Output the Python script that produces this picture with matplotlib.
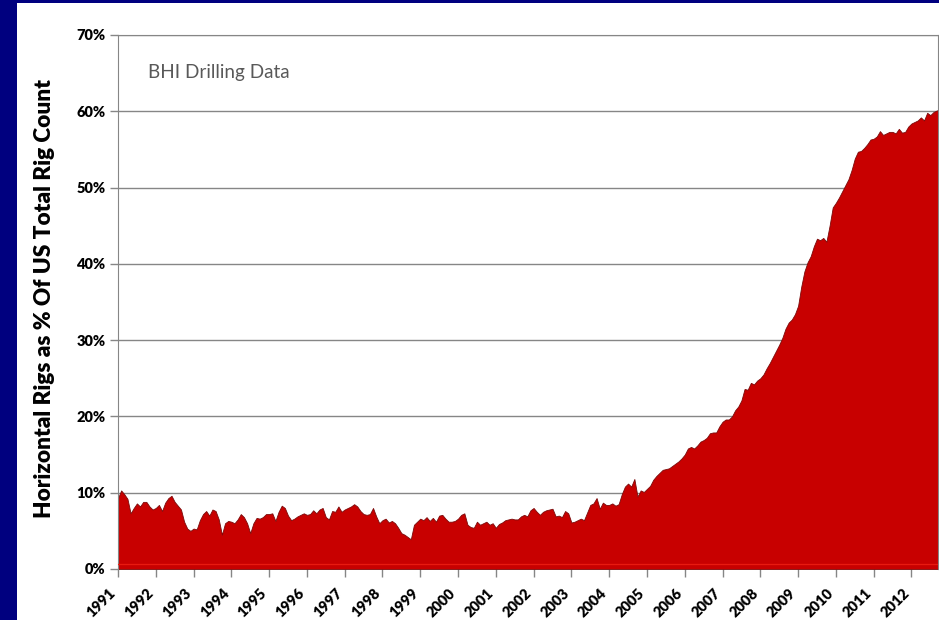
import numpy as np
import matplotlib
matplotlib.use("Agg")
import matplotlib.pyplot as plt
import matplotlib.transforms as mtransforms
from matplotlib.patches import Rectangle
from matplotlib.ticker import FuncFormatter

plt.rcParams['font.family'] = ['Lato', 'DejaVu Sans']

# monthly share of horizontal rigs in the US rig count (%)
start_year = 1991
horizontal_pct = [
    9.3, 10.3, 9.8, 9.2, 7.3, 8.0, 8.6, 8.2, 8.8, 8.8, 8.2, 7.8,          # 1991
    8.0, 8.4, 7.6, 8.7, 9.3, 9.6, 8.8, 8.3, 7.8, 6.2, 5.3, 5.0,           # 1992
    5.3, 5.2, 6.4, 7.2, 7.6, 7.0, 7.8, 7.6, 6.5, 4.5, 6.0, 6.3,           # 1993
    6.2, 6.0, 6.5, 7.2, 6.8, 6.0, 4.7, 6.0, 6.7, 6.6, 6.8, 7.2,           # 1994
    7.2, 7.3, 6.3, 7.5, 8.3, 8.0, 7.0, 6.4, 6.6, 6.9, 7.1, 7.3,           # 1995
    7.1, 7.2, 7.7, 7.3, 7.8, 8.0, 6.8, 6.5, 7.6, 7.5, 8.2, 7.5,           # 1996
    7.8, 8.0, 8.2, 8.5, 8.2, 7.6, 7.2, 7.1, 7.2, 8.0, 6.9, 6.0,           # 1997
    6.4, 6.6, 6.1, 6.3, 6.0, 5.4, 4.7, 4.5, 4.2, 3.9, 5.8, 6.2,           # 1998
    6.6, 6.4, 6.8, 6.3, 6.7, 6.2, 7.0, 7.1, 6.6, 6.2, 6.2, 6.3,           # 1999
    6.6, 7.1, 7.3, 5.8, 5.5, 5.4, 6.2, 5.8, 6.0, 6.2, 5.8, 6.0,           # 2000
    5.4, 5.9, 6.1, 6.4, 6.5, 6.6, 6.5, 6.5, 6.9, 7.1, 6.9, 7.7,           # 2001
    8.0, 7.5, 7.1, 7.5, 7.7, 7.8, 7.9, 6.9, 7.0, 6.8, 7.6, 7.3,           # 2002
    6.1, 6.2, 6.4, 6.6, 6.4, 7.4, 8.4, 8.6, 9.3, 7.9, 8.7, 8.4,           # 2003
    8.4, 8.6, 8.3, 8.5, 9.8, 10.8, 11.2, 10.8, 11.8, 9.5, 10.3, 10.1,     # 2004
    10.5, 10.9, 11.7, 12.2, 12.6, 13.0, 13.1, 13.2, 13.5, 13.8, 14.1, 14.5,  # 2005
    15.0, 15.8, 16.0, 15.8, 16.2, 16.7, 16.9, 17.2, 17.8, 17.9, 17.9, 18.7,  # 2006
    19.3, 19.6, 19.6, 20.0, 20.8, 21.3, 22.1, 23.6, 23.5, 24.4, 24.2, 24.7,  # 2007
    25.0, 25.5, 26.3, 27.0, 27.8, 28.6, 29.4, 30.3, 31.5, 32.3, 32.7, 33.4,  # 2008
    34.5, 37.0, 39.0, 40.2, 41.0, 42.3, 43.3, 43.1, 43.4, 42.9, 45.0, 47.4,  # 2009
    48.0, 48.7, 49.5, 50.3, 51.1, 52.3, 53.8, 54.7, 54.8, 55.2, 55.7, 56.3,  # 2010
    56.4, 56.7, 57.4, 56.9, 57.1, 57.3, 57.3, 57.1, 57.7, 57.2, 57.3, 58.0,  # 2011
    58.4, 58.6, 58.8, 59.2, 58.8, 59.8, 59.5, 59.9, 60.1, 60.2,              # 2012
]
year_ticks = list(range(1991, 2013))
pct_ticks = [0, 10, 20, 30, 40, 50, 60, 70]

t = start_year + np.arange(len(horizontal_pct)) / 12.0
y = np.array(horizontal_pct)

fig = plt.figure(figsize=(9.39, 6.2), dpi=100)
fig.patch.set_facecolor('#00007f')
fig.patches.append(Rectangle((17 / 939, 0), 1, 617 / 620, transform=fig.transFigure,
                             facecolor='white', edgecolor='none', zorder=-10))

ax = fig.add_axes([118 / 939, 51 / 620, 819.5 / 939, 534 / 620])
ax.set_facecolor('white')

ax.fill_between(t, 0, y, facecolor='#c80000', edgecolor='#7a0a0a', linewidth=0.6, zorder=2)
ax.axhline(0.6, color='#e81a10', lw=0.9, zorder=3)

ax.set_xlim(1991, 2012.69)
ax.set_ylim(0, 70)
ax.set_yticks(pct_ticks)
ax.yaxis.set_major_formatter(FuncFormatter(lambda v, p: f"{int(v)}%"))
ax.set_xticks(year_ticks)
ax.set_xticklabels([str(yr) for yr in year_ticks], rotation=45, ha='right',
                   fontsize=10.5, fontweight='heavy')
shift = mtransforms.ScaledTranslation(5 / 100, 0, fig.dpi_scale_trans)
for lab in ax.get_xticklabels():
    lab.set_transform(lab.get_transform() + shift)
for lab in ax.get_yticklabels():
    lab.set_fontsize(10.5)
    lab.set_fontweight('heavy')
ax.grid(axis='y', color='#868686', lw=1, zorder=1)
ax.set_axisbelow(True)
ax.tick_params(axis='both', colors='#868686', length=6, width=1, labelcolor='black')
ax.tick_params(axis='x', pad=6.5)
ax.tick_params(axis='y', pad=3)
for side in ['left', 'top', 'right']:
    ax.spines[side].set_color('#868686')
ax.spines['bottom'].set_visible(False)

ax.text(0.037, 0.929, 'BHI Drilling Data', transform=ax.transAxes, fontsize=13.6,
        color='#595959', va='center', ha='left')

fig.text(45 / 939, 1 - 299 / 620, 'Horizontal Rigs as % Of US Total Rig Count',
         rotation=90, fontsize=16.3, fontweight='heavy', ha='center', va='center')

fig.savefig('out.png', dpi=100, facecolor=fig.get_facecolor())
